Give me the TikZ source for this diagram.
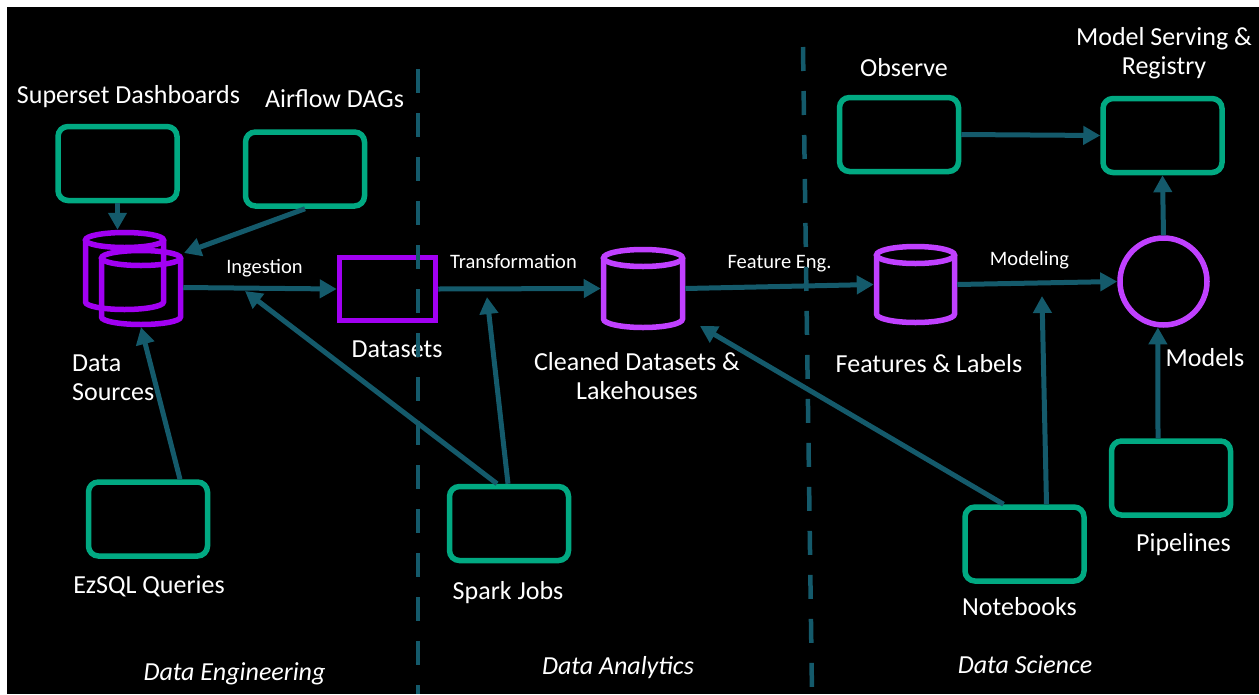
\documentclass[tikz,border=0pt]{standalone}
\usepackage{fontspec}
\setmainfont{Carlito}
\usetikzlibrary{arrows.meta,calc}

\definecolor{hpegreen}{HTML}{01A982}
\definecolor{flowteal}{HTML}{145A6B}
\definecolor{violetA}{HTML}{A100F2}
\definecolor{violetB}{HTML}{C040FF}

\tikzset{
  tool/.style={draw=hpegreen, line width=5.5pt, rounded corners=10pt,
    minimum width=119pt, minimum height=74pt, inner sep=0pt},
  store/.style={draw=violetA, line width=5.5pt,
    minimum width=96pt, minimum height=63pt, inner sep=0pt},
  modelring/.style={circle, draw=violetB, line width=5.5pt,
    minimum size=87pt, inner sep=0pt},
  cylbox/.style={draw=none, inner sep=0pt, outer sep=2.75pt},
  flow/.style={draw=flowteal, line width=5pt, -{Triangle[length=17pt,width=18pt]}},
  divider/.style={draw=flowteal, line width=4.5pt, dash pattern=on 24pt off 20pt},
  lbl/.style={text=white, font=\fontsize{26}{29}\selectfont, inner sep=0pt, anchor=base},
  steplbl/.style={text=white, font=\fontsize{20.5}{24}\selectfont, inner sep=0pt, anchor=base},
  zonelbl/.style={text=white, font=\fontsize{26}{29}\selectfont\itshape, inner sep=0pt, anchor=base},
}

% database cylinder: name, colour, centre x, top, bottom, x radius, y radius
\newcommand\dbcylinder[7]{%
  \node[cylbox, minimum width={2*#6}, minimum height={#5-#4}] (#1) at (#3,{(#4+#5)/2}) {};
  \draw[#2, line width=5.5pt] (#3,#4+#7) ellipse [x radius=#6, y radius=#7];
  \draw[#2, line width=5.5pt] (#3-#6,#4+#7) -- (#3-#6,#5-#7)
    arc[start angle=180, end angle=0, x radius=#6, y radius=#7] -- (#3+#6,#4+#7);
}

\begin{document}
\begin{tikzpicture}[x=1pt, y=-1pt]
  \useasboundingbox (0,0) rectangle (1259,694);
  \fill[white] (0,0) rectangle (1259,694);
  \fill[black] (7,7) rectangle (1259,694);

  % tools
  \node[tool] (sup)   at (117.5,163.5) {};
  \node[tool] (air)   at (305,169) {};
  \node[tool] (ez)    at (148,519) {};
  \node[tool] (spark) at (509,523.5) {};
  \node[tool] (obs)   at (899,134.5) {};
  \node[tool] (serve) at (1162.5,135.5) {};
  \node[tool] (nb)    at (1024.5,544) {};
  \node[tool] (pipe)  at (1171,478) {};

  % data stores
  \dbcylinder{dsb}{violetA}{124.5}{232.5}{309.5}{39}{7.5}
  \dbcylinder{dsf}{violetA}{141}{250.5}{324.5}{39.5}{7.5}
  \node[store] (dset) at (387.5,289) {};
  \dbcylinder{clean}{violetB}{643}{249.5}{327.5}{39.5}{8.5}
  \dbcylinder{feat}{violetB}{915.5}{246.5}{322.5}{39}{8.5}
  \node[modelring] (models) at (1163.5,281.5) {};

  % free arrow ends on the flow lines
  \coordinate (airtip) at (184,253);
  \coordinate (ingtip) at (245,291);
  \coordinate (trtip)  at (487,297);
  \coordinate (cltip)  at (700,326);
  \coordinate (motip)  at (1042,296);

  % connectors
  \draw[flow] (sup.south) -- (sup.south |- dsb.north);
  \draw[flow] (air.south) -- (airtip);
  \draw[flow] (dsf.east) -- (dset.west);
  \draw[flow] ([xshift=32pt]ez.north) -- (dsf.south);
  \draw[flow] ([xshift=-12pt]spark.north) -- (ingtip);
  \draw[flow] (dset.east) -- (clean.west);
  \draw[flow] ([xshift=-1pt]spark.north) -- (trtip);
  \draw[flow] (clean.east) -- (feat.west);
  \draw[flow] ([xshift=-21pt]nb.north) -- (cltip);
  \draw[flow] (feat.east) -- (models.west);
  \draw[flow] ([xshift=22pt]nb.north) -- (motip);
  \draw[flow] ([xshift=-13pt]pipe.north) -- (models.-97);
  \draw[flow] (models.north) -- (serve.south);
  \draw[flow] (obs.east) -- (serve.west);

  % labels (multi-line labels are placed by the baseline of their last line)
  \node[lbl] (supL) at (128.5,103) {Superset Dashboards};
  \node[lbl] (airL) at (334.5,107) {Airflow DAGs};
  \node[lbl, align=left, anchor=base west] (dsL) at (72,400) {Data\\Sources};
  \node[lbl] (dsetL) at (397,357) {Datasets};
  \node[lbl] (ezL) at (149,593) {EzSQL Queries};
  \node[steplbl] (ingL) at (264.5,273) {Ingestion};
  \node[steplbl] (trL) at (513.5,268) {Transformation};
  \node[lbl, align=center] (clL) at (637,399) {Cleaned Datasets \&\\Lakehouses};
  \node[lbl] (spL) at (508,599) {Spark Jobs};
  \node[steplbl] (feL) at (779.5,268) {Feature Eng.};
  \node[lbl] (flL) at (929,372) {Features \& Labels};
  \node[steplbl] (moL) at (1029.5,265) {Modeling};
  \node[lbl] (mdL) at (1205,366) {Models};
  \node[lbl] (obL) at (904,76) {Observe};
  \node[lbl, align=center] (svL) at (1164,74) {Model Serving \&\\Registry};
  \node[lbl] (nbL) at (1019.5,615) {Notebooks};
  \node[lbl] (piL) at (1183.5,551) {Pipelines};
  \node[zonelbl] (zE) at (234.5,680) {Data Engineering};
  \node[zonelbl] (zA) at (618,674) {Data Analytics};
  \node[zonelbl] (zS) at (1025,673) {Data Science};

  % zone dividers
  \coordinate (d1top) at (418,69);
  \coordinate (d1bot) at (418,694);
  \coordinate (d2top) at (803,47);
  \coordinate (d2bot) at (812,694);
  \draw[divider] (d1top) -- (d1bot);
  \draw[divider] (d2top) -- (d2bot);
\end{tikzpicture}
\end{document}
